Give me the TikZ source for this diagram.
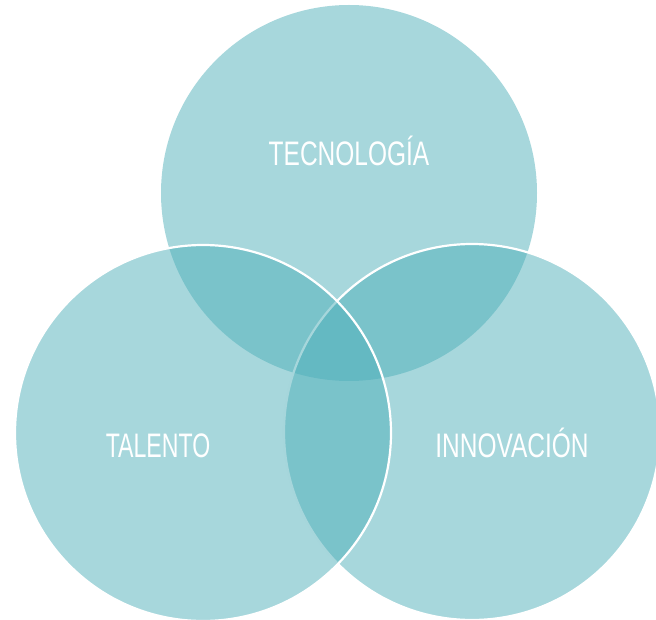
\documentclass[tikz,border=0pt]{standalone}
\usepackage{fontspec}
\setmainfont{Liberation Sans}
\usepackage{graphicx}
\definecolor{tealbase}{RGB}{79,175,185}
\begin{document}
\begin{tikzpicture}[x=1pt,y=-1pt,
  venn/.style={circle, minimum size=376pt, inner sep=0pt, fill=tealbase, fill opacity=0.5},
  vennline/.style={venn, draw=white, line width=2.2pt},
  lbl/.style={text=white, font=\fontsize{34}{40}\selectfont, anchor=base, inner sep=0pt}]
\useasboundingbox (0,0) rectangle (656,620);
\clip (0,0) rectangle (656,620);
\node[venn] (tec) at (349,193) {};
\node[vennline] (inn) at (472,432) {};
\node[vennline] (tal) at (203,433) {};
\node[lbl] (ltec) at (349,166) {\scalebox{0.72}[1]{TECNOLOGÍA}};
\node[lbl] (ltal) at (158,457) {\scalebox{0.68}[1]{TALENTO}};
\node[lbl] (linn) at (512,457) {\scalebox{0.72}[1]{INNOVACIÓN}};
\end{tikzpicture}
\end{document}
